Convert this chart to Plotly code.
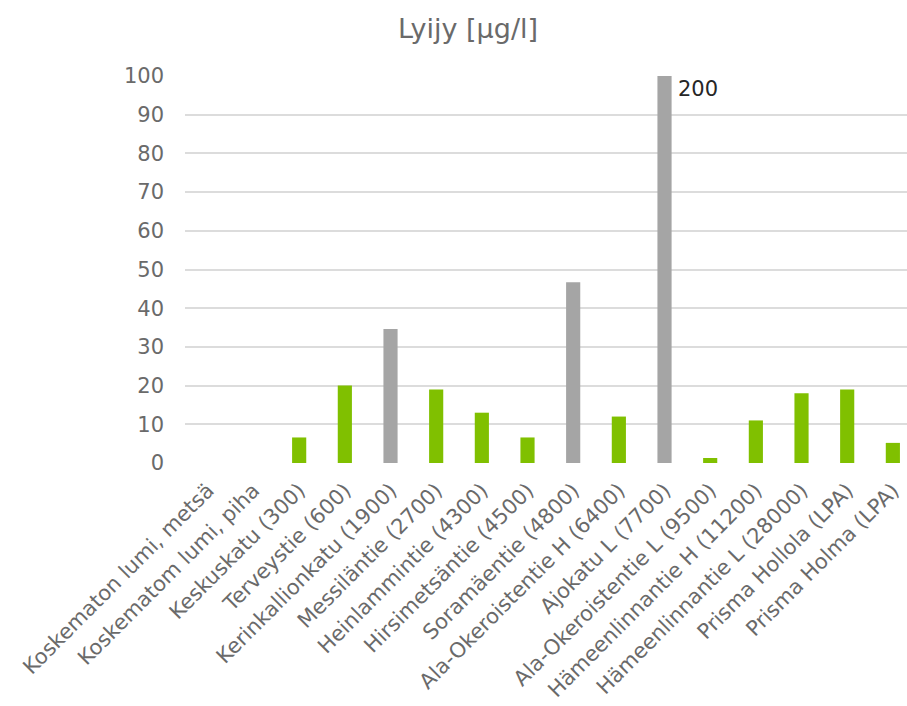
import plotly.graph_objects as go

# Lead concentrations in snow samples, µg/l (traffic volume in brackets)
categories = [
    "Koskematon lumi, metsä",
    "Koskematom lumi, piha",
    "Keskuskatu (300)",
    "Terveystie (600)",
    "Kerinkallionkatu (1900)",
    "Messiläntie (2700)",
    "Heinlammintie (4300)",
    "Hirsimetsäntie (4500)",
    "Soramäentie (4800)",
    "Ala-Okeroistentie H (6400)",
    "Ajokatu L (7700)",
    "Ala-Okeroistentie L (9500)",
    "Hämeenlinnantie H (11200)",
    "Hämeenlinnantie L (28000)",
    "Prisma Hollola (LPA)",
    "Prisma Holma (LPA)",
]
lead_values = [None, None, 6.6, 20, 34.6, 19, 13, 6.6, 46.7, 12, 200, 1.3, 11, 18, 19, 5.2]
highlighted = ["Kerinkallionkatu (1900)", "Soramäentie (4800)", "Ajokatu L (7700)"]
y_ticks = [0, 10, 20, 30, 40, 50, 60, 70, 80, 90, 100]

GREEN = "#80C000"
GREY = "#A5A5A5"
colors = [GREY if c in highlighted else GREEN for c in categories]

W, H = 907, 706
FONT = "DejaVu Sans"
TXT = "#6A6A6A"

fig = go.Figure(
    go.Bar(
        x=list(range(len(categories))),
        y=lead_values,
        marker=dict(color=colors, line=dict(width=0)),
        width=0.31,
        hoverinfo="skip",
    )
)

# Value label for the bar that runs past the top of the axis
over_idx = next(i for i, v in enumerate(lead_values) if v is not None and v > y_ticks[-1])
fig.add_annotation(
    x=over_idx, y=y_ticks[-1], xref="x", yref="y",
    text=f"{lead_values[over_idx]:g}", showarrow=False,
    xanchor="left", yanchor="top", xshift=11, yshift=1,
    font=dict(family=FONT, size=21, color="#262626"),
)

left, top, bottom_px = 184.5, 75.7, 463.3
cat_px = 45.7
x_right = -0.5 + (W - left) / cat_px

fig.update_layout(
    width=W, height=H,
    margin=dict(l=left, r=0, t=top, b=H - bottom_px, pad=0),
    paper_bgcolor="white", plot_bgcolor="white",
    showlegend=False,
    title=dict(
        text="Lyijy [µg/l]", x=468 / W, xanchor="center", y=1 - 29 / H, yanchor="middle",
        font=dict(family=FONT, size=27, color=TXT),
    ),
    xaxis=dict(
        range=[-0.5, x_right],
        tickmode="array", tickvals=list(range(len(categories))), ticktext=categories,
        tickangle=-45, showgrid=False, zeroline=False, showline=False, ticks="",
        ticklabelstandoff=10,
        tickfont=dict(family=FONT, size=21, color=TXT), automargin=False,
    ),
    yaxis=dict(
        range=[0, 100], tickmode="array", tickvals=y_ticks,
        showgrid=True, gridcolor="#DCDCDC", gridwidth=1.6,
        zeroline=False, showline=False, ticks="", ticklabelstandoff=20,
        tickfont=dict(family=FONT, size=21, color=TXT), automargin=False,
    ),
)

fig.write_html("out.html")
